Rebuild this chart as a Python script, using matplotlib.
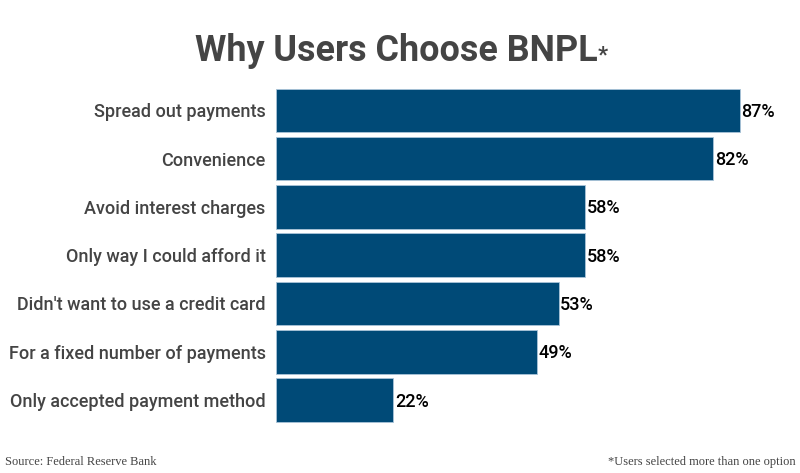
import matplotlib
matplotlib.use("Agg")
import matplotlib.pyplot as plt

# data
reasons = ["Spread out payments", "Convenience", "Avoid interest charges",
           "Only way I could afford it", "Didn't want to use a credit card",
           "For a fixed number of payments", "Only accepted payment method"]
shares = [87, 82, 58, 58, 53, 49, 22]

bar_color = "#004a77"
text_gray = "#444444"

fig = plt.figure(figsize=(8, 4.73), dpi=100)
ax = fig.add_axes([0.345, 0.103, 0.5825, 0.715])

pos = list(range(len(reasons)))
ax.barh(pos, shares, height=0.9, color=bar_color, edgecolor="#a9c4d8", linewidth=0.6)
ax.set_ylim(len(reasons) - 0.5, -0.5)
ax.set_xlim(0, 87.4)

ax.set_yticks(pos)
ax.set_yticklabels(reasons, fontsize=13, color=text_gray, fontfamily="Roboto", fontweight="medium")
ax.tick_params(axis="y", length=0, pad=7.5)
ax.set_xticks([])
for s in ax.spines.values():
    s.set_visible(False)

for p, v in zip(pos, shares):
    ax.text(v + 0.3, p + 0.03, f"{v}%", va="center", ha="left", fontsize=13,
            fontfamily="Roboto", fontweight="medium", color="black")

# title with a small asterisk
fig.text(0.495, 0.893, "Why Users Choose BNPL", ha="center", va="center",
         fontsize=25.8, fontweight="bold", fontfamily="Roboto", color=text_gray)
fig.text(0.747, 0.882, "*", ha="left", va="center", fontsize=16,
         fontweight="bold", fontfamily="Roboto", color=text_gray)

fig.text(0.006, 0.023, "Source: Federal Reserve Bank", ha="left", va="center",
         fontsize=9, fontfamily="Liberation Serif", color=text_gray)
fig.text(0.994, 0.023, "*Users selected more than one option", ha="right", va="center",
         fontsize=9, fontfamily="Liberation Serif", color=text_gray)

fig.savefig("out.png", dpi=100)
